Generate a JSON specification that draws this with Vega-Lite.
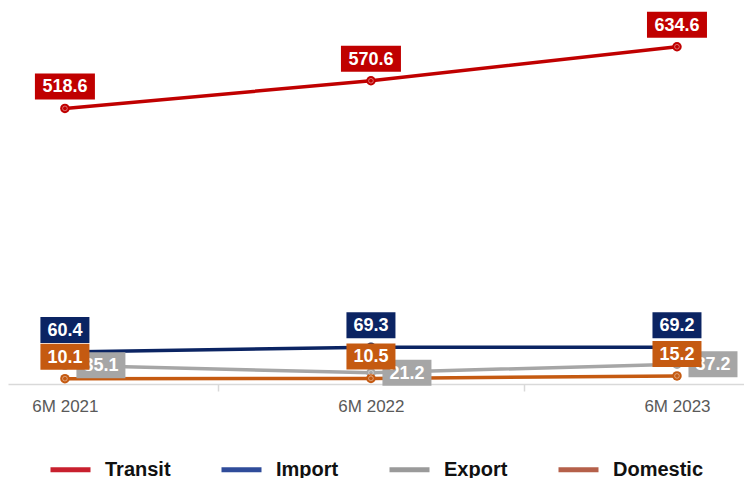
{
  "$schema": "https://vega.github.io/schema/vega-lite/v6.json",
  "autosize": "none",
  "width": 736,
  "height": 372,
  "padding": {"left": 8, "top": 12, "right": 0, "bottom": 94},
  "background": "white",
  "config": {
    "view": {"stroke": null},
    "font": "Liberation Sans",
    "text": {"font": "Liberation Sans"}
  },
  "data": {
    "values": [
      {"period": 2021, "series": "Transit", "value": 518.6},
      {"period": 2022, "series": "Transit", "value": 570.6},
      {"period": 2023, "series": "Transit", "value": 634.6},
      {"period": 2021, "series": "Import", "value": 60.4},
      {"period": 2022, "series": "Import", "value": 69.3},
      {"period": 2023, "series": "Import", "value": 69.2},
      {"period": 2021, "series": "Export", "value": 35.1},
      {"period": 2022, "series": "Export", "value": 21.2},
      {"period": 2023, "series": "Export", "value": 37.2},
      {"period": 2021, "series": "Domestic", "value": 10.1},
      {"period": 2022, "series": "Domestic", "value": 10.5},
      {"period": 2023, "series": "Domestic", "value": 15.2}
    ]
  },
  "encoding": {
    "x": {
      "field": "period",
      "type": "quantitative",
      "scale": {"domain": [2020.814, 2023.219], "nice": false, "zero": false},
      "axis": {
        "title": null,
        "grid": false,
        "values": [2021, 2021.5, 2022, 2022.5, 2023],
        "labelExpr": "datum.value % 1 === 0 ? '6M ' + datum.value : ''",
        "labelColor": "#595959",
        "labelFont": "Liberation Sans",
        "labelFontSize": 17,
        "labelPadding": 7,
        "labelFlush": false,
        "labelOverlap": false,
        "domainColor": "#d9d9d9",
        "domainWidth": 1.5,
        "tickColor": "#d9d9d9",
        "tickWidth": 1.5,
        "tickSize": 7,
        "tickOpacity": {"condition": {"test": "datum.value % 1 === 0", "value": 0}, "value": 1}
      }
    },
    "y": {
      "field": "value",
      "type": "quantitative",
      "scale": {"domain": [0, 700], "nice": false},
      "axis": null
    }
  },
  "layer": [
    {
      "mark": {"type": "line", "strokeOpacity": 0},
      "encoding": {
        "stroke": {
          "field": "series",
          "type": "nominal",
          "scale": {
            "domain": ["Transit", "Import", "Export", "Domestic"],
            "range": ["#c8202e", "#2f4c9a", "#9a9a9a", "#b5604a"]
          },
          "legend": {
            "title": null,
            "orient": "none",
            "direction": "horizontal",
            "legendX": 40,
            "legendY": 435,
            "symbolType": "stroke",
            "symbolSize": 1600,
            "symbolStrokeWidth": 5,
            "symbolOpacity": 1,
            "labelFont": "Liberation Sans",
            "labelFontSize": 20,
            "labelFontWeight": "bold",
            "labelColor": "#111111",
            "labelOffset": 12,
            "columnPadding": 40
          }
        }
      }
    },
    {
      "mark": {"type": "line", "strokeWidth": 3.5},
      "encoding": {
        "color": {
          "field": "series",
          "type": "nominal",
          "scale": {
            "domain": ["Transit", "Import", "Export", "Domestic"],
            "range": ["#c00000", "#0b2463", "#a6a6a6", "#c55a11"]
          },
          "legend": null
        }
      }
    },
    {
      "mark": {"type": "point", "shape": "circle", "filled": true, "opacity": 1, "size": 90},
      "encoding": {"color": {"field": "series", "type": "nominal", "legend": null}}
    },
    {
      "mark": {"type": "point", "shape": "circle", "filled": false, "stroke": "white", "strokeWidth": 1, "strokeOpacity": 0.6, "size": 22},
      "encoding": {}
    },
    {
      "transform": [{"filter": "datum.series === 'Export'"}],
      "mark": {"type": "point", "shape": "M-1,-0.5306H1V0.5306H-1Z", "filled": true, "opacity": 1, "size": 2401, "xOffset": 36},
      "encoding": {"color": {"field": "series", "type": "nominal", "legend": null}}
    },
    {
      "transform": [{"filter": "datum.series === 'Export'"}],
      "mark": {"type": "text", "color": "white", "fontSize": 18, "fontWeight": "bold", "align": "center", "baseline": "middle", "xOffset": 36, "yOffset": 1},
      "encoding": {"text": {"field": "value", "type": "quantitative", "format": ".1f"}}
    },
    {
      "transform": [{"filter": "datum.series === 'Transit'"}],
      "mark": {"type": "point", "shape": "M-1,-0.4333H1V0.4333H-1Z", "filled": true, "opacity": 1, "size": 3600, "yOffset": -22},
      "encoding": {"color": {"field": "series", "type": "nominal", "legend": null}}
    },
    {
      "transform": [{"filter": "datum.series === 'Transit'"}],
      "mark": {"type": "text", "color": "white", "fontSize": 18, "fontWeight": "bold", "align": "center", "baseline": "middle", "yOffset": -21},
      "encoding": {"text": {"field": "value", "type": "quantitative", "format": ".1f"}}
    },
    {
      "transform": [{"filter": "datum.series === 'Import' || datum.series === 'Domestic'"}],
      "mark": {"type": "point", "shape": "M-1,-0.5306H1V0.5306H-1Z", "filled": true, "opacity": 1, "size": 2401, "yOffset": -22},
      "encoding": {"color": {"field": "series", "type": "nominal", "legend": null}}
    },
    {
      "transform": [{"filter": "datum.series === 'Import' || datum.series === 'Domestic'"}],
      "mark": {"type": "text", "color": "white", "fontSize": 18, "fontWeight": "bold", "align": "center", "baseline": "middle", "yOffset": -21},
      "encoding": {"text": {"field": "value", "type": "quantitative", "format": ".1f"}}
    }
  ]
}
